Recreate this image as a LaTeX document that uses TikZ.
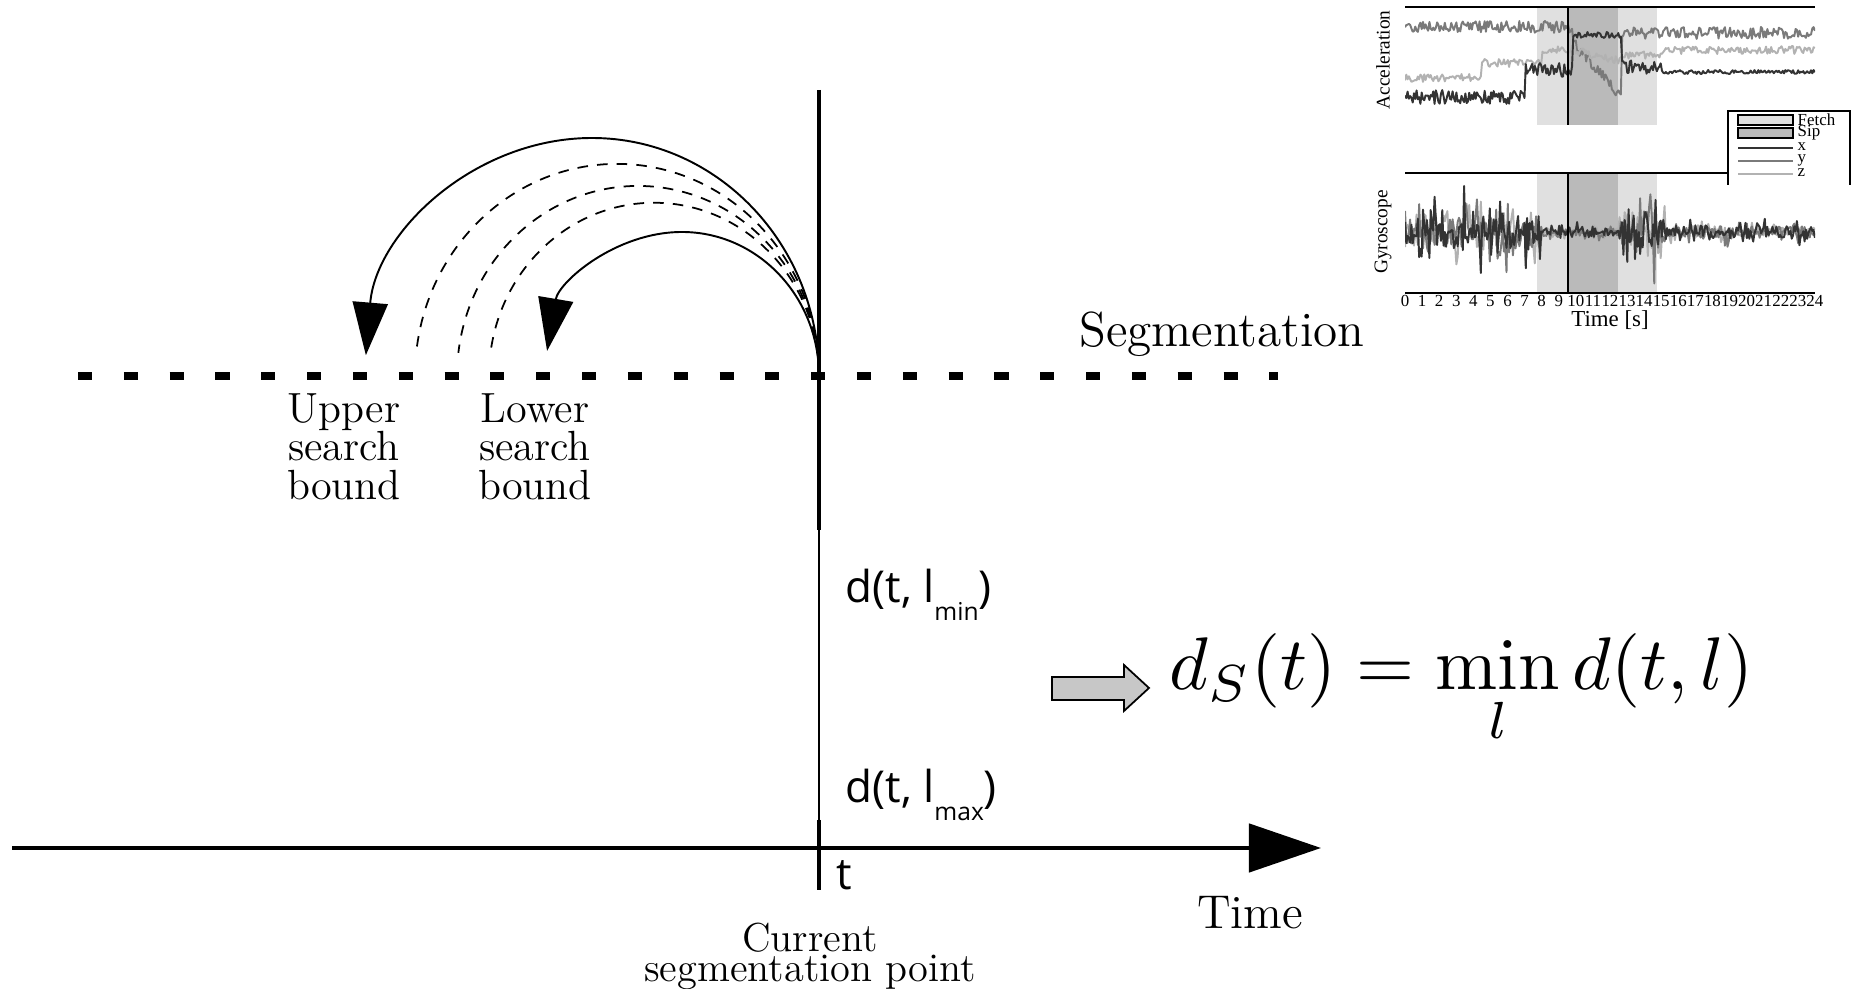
\documentclass[tikz,border=0pt]{standalone}
\usepackage{fontspec}
\newfontfamily\labelfont{Open Sans}
\newfontfamily\plotfont{Liberation Serif}
\usetikzlibrary{arrows.meta}

\colorlet{sigdark}{black!80}
\colorlet{sigmid}{black!52}
\colorlet{siglight}{black!30}

\newcommand{\lsub}[1]{\raisebox{-5pt}{\fontsize{7}{8}\selectfont #1}}

\tikzset{
  thick axis/.style={line width=1.2pt},
  seg dots/.style={line width=2pt, dash pattern=on 4pt off 9.03pt},
  bound arc/.style={line width=0.55pt, -{Triangle[length=15pt,width=10pt]}},
  trial arc/.style={line width=0.5pt, dash pattern=on 3pt off 2.6pt},
  serif text/.style={inner sep=0pt, align=center},
  sans text/.style={inner sep=0pt, font=\labelfont\fontsize{12.5}{15}\selectfont},
  signal/.style={line width=0.55pt, line join=round},
  plot text/.style={inner sep=0pt, font=\plotfont\fontsize{4.8}{6}\selectfont},
  declare function={
    accx(\u)=97-(\u>7)*27-(\u>9.8)*35+(\u>12.7)*32+(\u>15)*5;
    accn(\u)=7-(\u>9.8)*4+(\u>12.7)*4-(\u>15)*5;
    accy(\u)=27+(\u>9.8)*(\u<12.7)*(15+19*(\u-9.8))+(\u>12.7)*6;
    accz(\u)=78-(\u>4.5)*15-(\u>8)*13+(\u>9.8)*(\u<12.7)*4*(\u-9.8)+(\u>12.7)*5-(\u>15)*5;
    gyrn(\u)=40-(\u>8)*32+(\u>12.5)*37-(\u>15.2)*32;
  }
}

\begin{document}
\begin{tikzpicture}[x=0.01cm, y=-0.01cm]
\useasboundingbox (0,0) rectangle (1853,989);

% segmentation line and current point
\coordinate (cur) at (819,376);
\coordinate (vtop) at (819,90);
\coordinate (vmid1) at (819,530);
\coordinate (vmid2) at (819,820);
\coordinate (vbot) at (819,890);
\draw[seg dots] (78,376) -- (1278,376);
\draw[thick axis] (vtop) -- (vmid1);
\draw[line width=0.6pt] (vmid1) -- (vmid2);
\draw[thick axis] (vmid2) -- (vbot);

% search arcs
\draw[bound arc] (cur) arc[start angle=0, end angle=-175, x radius=227, y radius=238];
\foreach \r in {202,181,165}
	\draw[trial arc] (cur) arc[start angle=0, end angle=-173, x radius=\r, y radius=1.05*\r];
\draw[bound arc] (cur) arc[start angle=0, end angle=-170, x radius=137, y radius=144];

% time axis
\coordinate (ax0) at (12,848);
\coordinate (ax1) at (1321,848);
\draw[thick axis, -{Triangle[length=20.5pt,width=13.7pt]}] (ax0) -- (ax1);

% labels
\node[serif text, anchor=base, font=\fontsize{14}{16}\selectfont] (seg) at (1222,347) {Segmentation};
\node[serif text, anchor=north, font=\fontsize{12}{10.9}\selectfont] (upper) at (344,393) {Upper\\search\\bound};
\node[serif text, anchor=north, font=\fontsize{12}{10.9}\selectfont] (lower) at (535,393) {Lower\\search\\bound};
\node[serif text, anchor=north, font=\fontsize{11.5}{7.3}\selectfont] (curpt) at (810,922) {Current\\segmentation point};
\node[serif text, anchor=base, font=\fontsize{13.5}{16}\selectfont] (time) at (1250,929) {Time};
\node[sans text, anchor=base west] (dmin) at (845,603) {d(t, l\lsub{min})};
\node[sans text, anchor=base west] (dmax) at (845,803) {d(t, l\lsub{max})};
\node[sans text, anchor=base west] (tlab) at (836,890) {t};

% result
\draw[fill=black!22, line width=0.5pt] (1052,677) -- (1124,677) -- (1124,665) -- (1149,688)
	-- (1124,711) -- (1124,700) -- (1052,700) -- cycle;
\node[anchor=west, inner sep=0pt, scale=2.12] (formula) at (1168,690) {$\displaystyle d_S(t) = \min_l d(t,l)$};

% inset: sensor recording
\foreach \ya/\yb in {7/125, 173/293} {
	\fill[black!12] (1537,\ya) rectangle (1657,\yb);
	\fill[black!27] (1568,\ya) rectangle (1618,\yb);
}
\begin{scope}
\clip (1405,7) rectangle (1815,125);
\pgfmathsetseed{11}
\draw[signal, sigmid] plot[domain=0:24, samples=320] ({1405+17.08*\x}, {accy(\x)+6*rand});
\draw[signal, siglight] plot[domain=0:24, samples=320] ({1405+17.08*\x}, {accz(\x)+4*rand});
\draw[signal, sigdark] plot[domain=0:24, samples=320] ({1405+17.08*\x}, {accx(\x)+accn(\x)*rand});
\end{scope}
\begin{scope}
\clip (1405,173) rectangle (1815,293);
\foreach \c/\s/\f in {siglight/3/0.9, sigmid/5/1.0, sigdark/7/1.1} {
	\pgfmathsetseed{\s}
	\draw[signal, \c] plot[domain=0:24, samples=320] ({1405+17.08*\x}, {232+\f*gyrn(\x)*rand*(0.5+rand*rand)});
}
\end{scope}
\draw[line width=0.7pt] (1568,7) -- (1568,125);
\draw[line width=0.7pt] (1568,173) -- (1568,293);
\draw[line width=0.5pt] (1405,7) -- (1815,7);
\draw[line width=0.5pt] (1405,173) -- (1815,173);
\draw[line width=0.5pt] (1405,293) -- (1815,293);
\foreach \i in {0,...,24}
	\node[plot text, anchor=base] (tick\i) at (1405+17.08*\i,307) {\i};
\node[plot text, anchor=base, font=\plotfont\fontsize{6.5}{7}\selectfont] (taxis) at (1610,327) {Time [s]};
\node[plot text, rotate=90, font=\plotfont\fontsize{5.5}{6}\selectfont] (acclab) at (1383,60) {Acceleration};
\node[plot text, rotate=90, font=\plotfont\fontsize{5.5}{6}\selectfont] (gyrlab) at (1383,232) {Gyroscope};

% legend
\fill[white] (1728,111) rectangle (1850,185);
\draw[line width=0.4pt] (1728,185) -- (1728,111) -- (1850,111) -- (1850,185);
\draw[fill=black!12, line width=0.3pt] (1738,115) rectangle (1793,125);
\draw[fill=black!27, line width=0.3pt] (1738,128) rectangle (1793,138);
\draw[signal, sigdark] (1738,148) -- (1793,148);
\draw[signal, sigmid] (1738,161) -- (1793,161);
\draw[signal, siglight] (1738,174) -- (1793,174);
\node[plot text, anchor=west] (legfetch) at (1797,120) {Fetch};
\node[plot text, anchor=west] (legsip) at (1797,133) {Sip};
\node[plot text, anchor=west] (legx) at (1797,147) {x};
\node[plot text, anchor=west] (legy) at (1797,160) {y};
\node[plot text, anchor=west] (legz) at (1797,173) {z};

\end{tikzpicture}
\end{document}
